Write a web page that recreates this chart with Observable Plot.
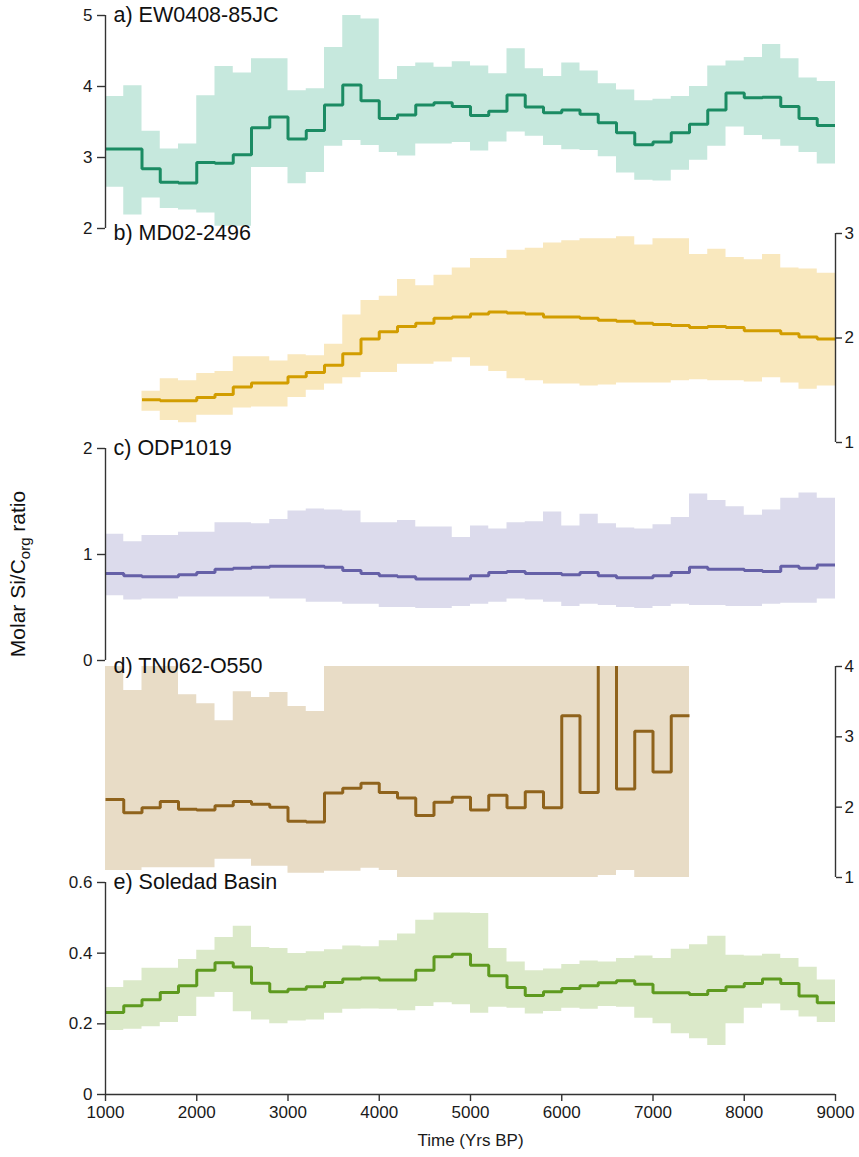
<!DOCTYPE html>
<html>
<head>
<meta charset="utf-8">
<script src="https://cdn.jsdelivr.net/npm/d3@7"></script>
<script src="https://cdn.jsdelivr.net/npm/@observablehq/plot@0.6"></script>
<style>
  body { margin: 0; background: #fff; }
  #chart { position: relative; width: 859px; height: 1157px; font-family: "Liberation Sans", Arial, Helvetica, sans-serif; }
  #chart svg { position: absolute; left: 0; }
  #ylabel { position: absolute; left: 19px; top: 574px; width: 0; height: 0; }
  #ylabel span { position: absolute; left: 0; top: 0; white-space: nowrap; font-size: 21px; color: #111;
    transform: translate(-50%, -50%) rotate(-90deg); }
  #ylabel sub { font-size: 15px; vertical-align: -5px; }
</style>
</head>
<body>
<div id="chart"><div id="ylabel"><span>Molar Si/C<sub>org</sub> ratio</span></div></div>
<script>
// bin edges (years BP)
const years = [1000,1200,1400,1600,1800,2000,2200,2400,2600,2800,3000,3200,3400,3600,3800,4000,4200,4400,4600,4800,
  5000,5200,5400,5600,5800,6000,6200,6400,6600,6800,7000,7200,7400,7600,7800,8000,8200,8400,8600,8800,9000];
const xTicks = [1000,2000,3000,4000,5000,6000,7000,8000,9000];

// a) EW0408-85JC (1000-9000)
const aMean = [3.12,3.12,2.84,2.65,2.64,2.93,2.92,3.04,3.42,3.57,3.26,3.38,3.74,4.02,3.80,3.55,3.60,3.74,3.77,3.72,
  3.59,3.65,3.88,3.71,3.63,3.67,3.61,3.49,3.35,3.18,3.22,3.35,3.47,3.67,3.91,3.84,3.85,3.72,3.55,3.45];
const aHigh = [3.86,4.01,3.37,3.12,3.19,3.87,4.28,4.19,4.39,4.39,3.94,3.97,4.55,5.0,4.95,4.10,4.28,4.33,4.27,4.35,
  4.29,4.18,4.53,4.25,4.14,4.33,4.22,4.04,3.95,3.80,3.82,3.86,4.00,4.29,4.36,4.41,4.59,4.39,4.12,4.07];
const aLow = [2.58,2.19,2.43,2.28,2.26,2.22,2.03,2.03,2.86,2.86,2.63,2.79,3.16,3.24,3.17,3.07,3.02,3.19,3.19,3.21,
  3.09,3.22,3.36,3.30,3.17,3.11,3.10,3.01,2.78,2.68,2.67,2.82,2.96,3.16,3.43,3.31,3.25,3.16,3.07,2.91];

// b) MD02-2496 (1400-9000)
const bMean = [1.41,1.40,1.40,1.43,1.46,1.53,1.57,1.57,1.63,1.67,1.74,1.85,1.99,2.06,2.11,2.14,2.19,2.20,
  2.23,2.25,2.24,2.23,2.20,2.20,2.19,2.17,2.16,2.14,2.13,2.12,2.10,2.11,2.10,2.07,2.07,2.04,2.01,1.99];
const bHigh = [1.49,1.61,1.59,1.66,1.68,1.82,1.82,1.78,1.84,1.83,1.94,2.22,2.36,2.40,2.56,2.50,2.60,2.67,
  2.76,2.76,2.84,2.86,2.91,2.93,2.95,2.95,2.97,2.89,2.95,2.95,2.80,2.85,2.77,2.75,2.80,2.67,2.66,2.62];
const bLow = [1.30,1.21,1.19,1.26,1.26,1.33,1.34,1.34,1.43,1.50,1.56,1.62,1.67,1.67,1.75,1.75,1.77,1.81,
  1.73,1.68,1.61,1.59,1.56,1.56,1.54,1.55,1.57,1.57,1.57,1.59,1.60,1.59,1.59,1.58,1.62,1.57,1.51,1.54];

// c) ODP1019 (1000-9000)
const cMean = [0.82,0.80,0.79,0.79,0.81,0.83,0.86,0.87,0.88,0.89,0.89,0.89,0.88,0.85,0.82,0.80,0.79,0.77,0.77,0.77,
  0.80,0.83,0.84,0.82,0.82,0.81,0.83,0.80,0.78,0.78,0.80,0.83,0.88,0.86,0.86,0.85,0.84,0.89,0.87,0.90];
const cHigh = [1.19,1.12,1.18,1.18,1.21,1.21,1.30,1.30,1.29,1.33,1.41,1.43,1.42,1.41,1.30,1.30,1.32,1.26,1.26,1.16,
  1.27,1.24,1.30,1.31,1.40,1.27,1.38,1.29,1.25,1.24,1.28,1.35,1.57,1.51,1.45,1.37,1.42,1.53,1.58,1.53];
const cLow = [0.61,0.57,0.58,0.58,0.60,0.60,0.60,0.60,0.60,0.58,0.58,0.55,0.55,0.53,0.53,0.50,0.50,0.49,0.49,0.51,
  0.53,0.55,0.58,0.57,0.55,0.51,0.53,0.52,0.50,0.49,0.51,0.53,0.52,0.52,0.51,0.51,0.53,0.54,0.54,0.58];

// d) TN062-O550 (1000-7400)
const dMean = [2.11,1.92,1.99,2.08,1.97,1.96,2.02,2.08,2.04,2.00,1.80,1.79,2.20,2.27,2.34,2.21,2.13,1.88,2.07,2.14,
  1.96,2.17,1.99,2.22,1.99,3.30,2.21,4.80,2.26,3.08,2.50,3.30];
const dHigh = [4.00,3.66,4.00,4.00,3.60,3.47,3.23,3.64,3.56,3.63,3.43,3.36,4.00,4.00,4.00,4.00,4.00,4.00,4.00,4.00,
  4.00,4.00,4.00,4.00,4.00,4.00,4.00,4.00,4.00,4.00,4.00,4.00];
const dLow = [1.10,1.10,1.14,1.14,1.14,1.14,1.26,1.26,1.16,1.16,1.06,1.06,1.09,1.09,1.13,1.10,0.99,0.99,0.99,0.99,
  0.99,0.99,0.99,0.99,0.99,0.99,0.99,1.03,1.10,0.99,0.99,0.99];

// e) Soledad Basin (1000-9000)
const eMean = [0.232,0.251,0.268,0.289,0.308,0.352,0.373,0.361,0.315,0.291,0.298,0.305,0.317,0.327,0.330,0.324,0.324,0.352,0.390,0.397,
  0.366,0.336,0.303,0.280,0.291,0.300,0.308,0.316,0.322,0.312,0.288,0.288,0.283,0.294,0.305,0.314,0.327,0.314,0.279,0.260];
const eHigh = [0.303,0.322,0.357,0.357,0.382,0.408,0.444,0.476,0.416,0.413,0.399,0.404,0.410,0.420,0.418,0.435,0.454,0.493,0.514,0.514,
  0.512,0.413,0.375,0.350,0.355,0.368,0.378,0.375,0.385,0.392,0.385,0.411,0.424,0.448,0.394,0.392,0.397,0.385,0.360,0.324];
const eLow = [0.181,0.185,0.192,0.204,0.221,0.275,0.289,0.234,0.211,0.200,0.208,0.211,0.230,0.241,0.242,0.241,0.237,0.249,0.260,0.254,
  0.230,0.247,0.244,0.228,0.235,0.244,0.241,0.249,0.247,0.216,0.200,0.172,0.158,0.139,0.200,0.244,0.256,0.237,0.219,0.204];

function rowsFor(start, mean, lo, hi) {
  const i0 = years.indexOf(start);
  const rows = mean.map((m, i) => ({year: years[i0 + i], mean: m, lo: lo[i], hi: hi[i]}));
  rows.push({...rows[rows.length - 1], year: years[i0 + mean.length]});
  return rows;
}

const panels = [
  {title: "a) EW0408-85JC", rows: rowsFor(1000, aMean, aLow, aHigh), domain: [2, 5], ticks: [2,3,4,5], side: "left",
   line: "#1b8b63", band: "#c6e8dd", top: 15, bottom: 228},
  {title: "b) MD02-2496", rows: rowsFor(1400, bMean, bLow, bHigh), domain: [1, 3], ticks: [1,2,3], side: "right",
   line: "#d29d00", band: "#f9e8be", top: 233, bottom: 442},
  {title: "c) ODP1019", rows: rowsFor(1000, cMean, cLow, cHigh), domain: [0, 2], ticks: [0,1,2], side: "left",
   line: "#6560a7", band: "#dcdbec", top: 448, bottom: 660},
  {title: "d) TN062-O550", rows: rowsFor(1000, dMean, dLow, dHigh), domain: [1, 4], ticks: [1,2,3,4], side: "right",
   line: "#8f631c", band: "#e8dcc6", top: 666, bottom: 877},
  {title: "e) Soledad Basin", rows: rowsFor(1000, eMean, eLow, eHigh), domain: [0, 0.6], ticks: [0,0.2,0.4,0.6], side: "left",
   line: "#5e9a1f", band: "#dbe9c9", top: 882, bottom: 1094, xaxis: true}
];

const axisColor = "#333";
const chart = document.getElementById("chart");
const fmt = d3.format("~g");

panels.forEach((p) => {
  const mt = 14;
  const mb = p.xaxis ? 1157 - p.bottom : 14;
  const height = (p.bottom - p.top) + mt + mb;
  const marks = [
    Plot.areaY(p.rows, {x: "year", y1: "lo", y2: "hi", curve: "step-after", fill: p.band, clip: true}),
    Plot.lineY(p.rows, {x: "year", y: "mean", curve: "step-after", stroke: p.line, strokeWidth: 3,
      strokeLinejoin: "miter", strokeLinecap: "butt", clip: true}),
    Plot.ruleX([p.side === "left" ? 1000 : 9000], {x: d => d, y1: () => p.domain[0], y2: () => p.domain[1],
      stroke: axisColor, strokeWidth: 1.4}),
    Plot.axisY({anchor: p.side, ticks: p.ticks, tickFormat: fmt, label: null,
      tickSize: p.side === "left" ? 8 : 6, tickPadding: p.side === "left" ? 5 : 3,
      fontSize: 17, stroke: axisColor, strokeWidth: 1.4, fill: "#1a1a1a"}),
    Plot.text([p.title], {frameAnchor: "top-left", text: d => d, dx: 8, lineAnchor: "middle",
      textAnchor: "start", fontSize: 21.5, fill: "#111"})
  ];
  if (p.xaxis) {
    marks.push(
      Plot.ruleY([p.domain[0]], {y: d => d, x1: () => 1000, x2: () => 9000, stroke: axisColor, strokeWidth: 1.4}),
      Plot.axisX({anchor: "bottom", ticks: xTicks, tickFormat: d => String(d), label: null,
        tickSize: 7, tickPadding: 4, fontSize: 17, stroke: axisColor, strokeWidth: 1.4, fill: "#1a1a1a"}),
      Plot.text(["Time (Yrs BP)"], {frameAnchor: "bottom", text: d => d, dy: 46, lineAnchor: "middle",
        fontSize: 17, fill: "#1a1a1a"})
    );
  }
  const svg = Plot.plot({
    width: 859, height,
    marginLeft: 105, marginRight: 24, marginTop: mt, marginBottom: mb,
    style: {background: "transparent", fontFamily: '"Liberation Sans", Arial, Helvetica, sans-serif', fontSize: "17px", overflow: "visible"},
    x: p.xaxis ? {domain: [1000, 9000]} : {domain: [1000, 9000], axis: null},
    y: {domain: p.domain, axis: null},
    marks
  });
  svg.style.top = (p.top - mt) + "px";
  chart.appendChild(svg);
});
</script>
</body>
</html>
